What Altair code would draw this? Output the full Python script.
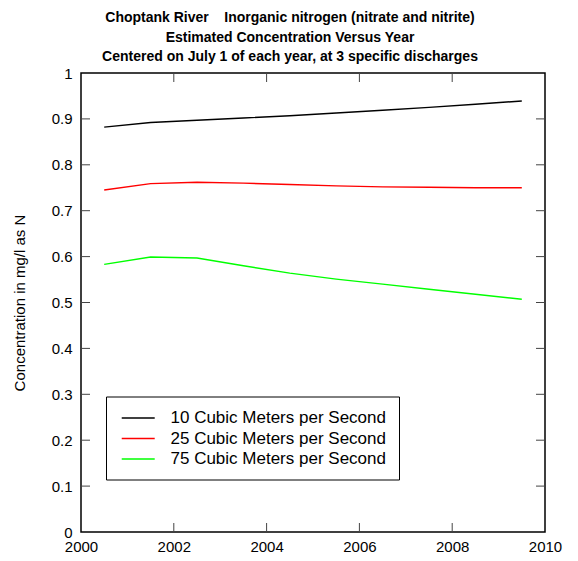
import altair as alt
import pandas as pd

years = [2000.5, 2001.5, 2002.5, 2003.5, 2004.5, 2005.5, 2006.5, 2007.5, 2008.5, 2009.5]
q10 = [0.882, 0.892, 0.897, 0.902, 0.907, 0.913, 0.919, 0.925, 0.932, 0.939]
q25 = [0.745, 0.759, 0.762, 0.760, 0.757, 0.754, 0.752, 0.751, 0.750, 0.750]
q75 = [0.583, 0.599, 0.597, 0.580, 0.564, 0.551, 0.540, 0.529, 0.518, 0.507]
series = ["10 Cubic Meters per Second", "25 Cubic Meters per Second", "75 Cubic Meters per Second"]
colors = ["black", "red", "#00ff00"]
x_ticks = [2000, 2002, 2004, 2006, 2008, 2010]
y_ticks = [0, 0.1, 0.2, 0.3, 0.4, 0.5, 0.6, 0.7, 0.8, 0.9, 1.0]
title_lines = [
    "Choptank River\u00a0\u00a0\u00a0\u00a0Inorganic nitrogen (nitrate and nitrite)",
    "Estimated Concentration Versus Year",
    "Centered on July 1 of each year, at 3 specific discharges",
]

W, H = 464, 459
TL = 9

rows = []
for s, vals in zip(series, [q10, q25, q75]):
    for yr, v in zip(years, vals):
        rows.append({"year": yr, "conc": v, "series": s})
df = pd.DataFrame(rows)

xscale = alt.Scale(domain=[2000, 2010], nice=False, zero=False)
yscale = alt.Scale(domain=[0, 1], nice=False)

xaxis = alt.Axis(values=x_ticks, format="d", title=None, ticks=False,
                 domain=False, grid=False, labelPadding=7, labelFontSize=15,
                 labelColor="black", labelFlush=False)
yaxis = alt.Axis(values=y_ticks, format=".1~f", title="Concentration in mg/l as N", ticks=False,
                 domain=False, grid=False, labelPadding=9, labelFontSize=15,
                 labelColor="black", titleFontSize=15, titleFontWeight="normal",
                 titleColor="black", titlePadding=24)

lines = alt.Chart(df).mark_line(strokeWidth=1.4).encode(
    x=alt.X("year:Q", scale=xscale, axis=xaxis),
    y=alt.Y("conc:Q", scale=yscale, axis=yaxis),
    color=alt.Color("series:N", scale=alt.Scale(domain=series, range=colors),
                    legend=alt.Legend(title=None, orient="none", legendX=25, legendY=323.5,
                                      strokeColor="black", fillColor="white", padding=12.5,
                                      symbolType="M-0.7,0H3.3", symbolSize=272,
                                      symbolStrokeWidth=1.5, labelFontSize=17,
                                      labelOffset=34, rowPadding=3.5, labelColor="black",
                                      labelLimit=400)),
)

xt = pd.DataFrame({"year": x_ticks[1:-1]})
yt = pd.DataFrame({"conc": y_ticks[1:-1]})
tick_color = "#444444"

xb = alt.Chart(xt).mark_rule(color=tick_color, strokeWidth=1).encode(
    x=alt.X("year:Q", scale=xscale, axis=xaxis), y=alt.value(H), y2=alt.value(H - TL))
xtop = alt.Chart(xt).mark_rule(color=tick_color, strokeWidth=1).encode(
    x=alt.X("year:Q", scale=xscale, axis=xaxis), y=alt.value(0), y2=alt.value(TL))
yl = alt.Chart(yt).mark_rule(color=tick_color, strokeWidth=1).encode(
    y=alt.Y("conc:Q", scale=yscale, axis=yaxis), x=alt.value(0), x2=alt.value(TL))
yr_ = alt.Chart(yt).mark_rule(color=tick_color, strokeWidth=1).encode(
    y=alt.Y("conc:Q", scale=yscale, axis=yaxis), x=alt.value(W), x2=alt.value(W - TL))

chart = alt.layer(lines, xb, xtop, yl, yr_).properties(
    width=W, height=H,
    title=alt.TitleParams(text=title_lines, fontSize=14, fontWeight="bold", anchor="middle",
                          dx=-23, offset=2, lineHeight=19.5, color="black"),
    autosize=alt.AutoSizeParams(type="none"),
    padding={"left": 73, "top": 65, "right": 24, "bottom": 21},
).configure(font="Liberation Sans").configure_view(stroke="black", strokeWidth=1.5)

chart.save("out.html", embed_options={"renderer": "svg", "actions": False})
